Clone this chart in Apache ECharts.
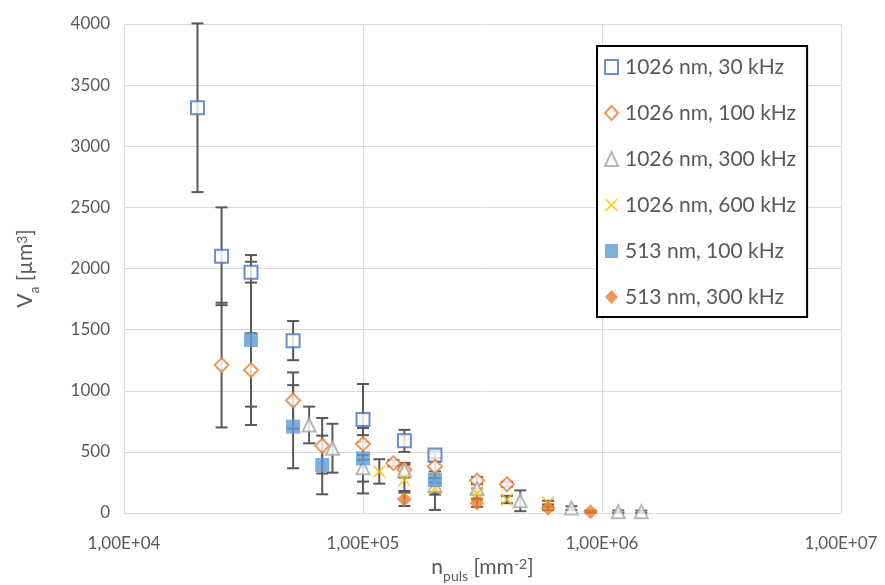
<!DOCTYPE html>
<html>
<head>
<meta charset="utf-8">
<script src="https://cdn.jsdelivr.net/npm/echarts@6/dist/echarts.min.js"></script>
<style>
  html, body { margin: 0; padding: 0; background: #fff; overflow: hidden; }
  #chart { width: 885px; height: 585px; }
</style>
</head>
<body>
<div id="chart"></div>
<script>
// 1026 nm, 30 kHz
const blue30X = [2.03e4, 2.56e4, 3.4e4, 5.1e4, 1e5, 1.49e5, 2e5];
const blue30Y = [3315, 2100, 1970, 1410, 765, 590, 475];
const blue30Err = [690, 400, 85, 160, 290, 90, 25];

// 1026 nm, 100 kHz
const orange100X = [2.56e4, 3.4e4, 5.1e4, 6.75e4, 1e5, 1.34e5, 1.49e5, 2e5, 3e5, 4e5];
const orange100Y = [1210, 1170, 920, 550, 565, 408, 355, 380, 265, 235];
const orange100Err = [510, 300, 230, 227, 130, 25, 40, 40, 30, 20];

// 1026 nm, 300 kHz
const gray300X = [5.95e4, 7.45e4, 1e5, 1.49e5, 2e5, 3e5, 4.55e5, 7.45e5, 1.17e6, 1.46e6];
const gray300Y = [720, 530, 370, 350, 225, 200, 100, 40, 10, 10];
const gray300Err = [150, 200, 210, 60, 60, 40, 85, 15, 10, 10];

// 1026 nm, 600 kHz
const yellow600X = [1.17e5, 1.49e5, 2e5, 3e5, 4e5, 5.95e5];
const yellow600Y = [340, 270, 200, 160, 110, 85];
const yellow600Err = [100, 90, 50, 40, 30, 15];

// 513 nm, 100 kHz
const blue513X = [3.4e4, 5.1e4, 6.75e4, 1e5, 2e5];
const blue513Y = [1415, 706, 393, 447, 270];
const blue513Err = [695, 340, 240, 190, 245];

// 513 nm, 300 kHz
const orange513X = [1.49e5, 3e5, 5.95e5, 8.95e5];
const orange513Y = [112, 80, 38, 11];
const orange513Err = [55, 30, 15, 8];

const yTicks = [0, 500, 1000, 1500, 2000, 2500, 3000, 3500, 4000];

const FONT = 'Lato';
const TXT = '#595959';
const crossPath = 'path://M0,1 L1,0 L5,4 L9,0 L10,1 L6,5 L10,9 L9,10 L5,6 L1,10 L0,9 L4,5 Z';

const seriesDefs = [
  { name: '1026 nm, 30 kHz', x: blue30X, y: blue30Y, e: blue30Err, symbol: 'rect', size: 13,
    itemStyle: { color: '#fff', borderColor: '#4472C4', borderWidth: 2 } },
  { name: '1026 nm, 100 kHz', x: orange100X, y: orange100Y, e: orange100Err, symbol: 'diamond', size: 14,
    itemStyle: { color: '#fff', borderColor: '#ED7D31', borderWidth: 2 } },
  { name: '1026 nm, 300 kHz', x: gray300X, y: gray300Y, e: gray300Err, symbol: 'triangle', size: 13,
    itemStyle: { color: '#fff', borderColor: '#A5A5A5', borderWidth: 2 } },
  { name: '1026 nm, 600 kHz', x: yellow600X, y: yellow600Y, e: yellow600Err, symbol: crossPath, size: 13,
    itemStyle: { color: '#FFC000' } },
  { name: '513 nm, 100 kHz', x: blue513X, y: blue513Y, e: blue513Err, symbol: 'rect', size: 14,
    itemStyle: { color: '#5B9BD5' } },
  { name: '513 nm, 300 kHz', x: orange513X, y: orange513Y, e: orange513Err, symbol: 'diamond', size: 15,
    itemStyle: { color: '#ED7D31' } }
];

function errRender(params, api) {
  const x = api.value(0), y = api.value(1), e = api.value(2);
  const top = api.coord([x, y + e]);
  const bot = api.coord([x, Math.max(y - e, 0)]);
  const hw = 6;
  const st = { stroke: '#595959', lineWidth: 2 };
  return {
    type: 'group',
    children: [
      { type: 'line', shape: { x1: top[0], y1: top[1], x2: bot[0], y2: bot[1] }, style: st },
      { type: 'line', shape: { x1: top[0] - hw, y1: top[1], x2: top[0] + hw, y2: top[1] }, style: st },
      { type: 'line', shape: { x1: bot[0] - hw, y1: bot[1], x2: bot[0] + hw, y2: bot[1] }, style: st }
    ]
  };
}

const series = [];
seriesDefs.forEach((d, i) => {
  series.push({
    name: d.name + ' err',
    type: 'custom',
    renderItem: errRender,
    encode: { x: 0, y: 1 },
    data: d.x.map((v, k) => [v, d.y[k], d.e[k]]),
    z: 2,
    silent: true
  });
  series.push({
    name: d.name,
    type: 'scatter',
    symbol: d.symbol,
    symbolSize: d.size,
    itemStyle: d.itemStyle,
    data: d.x.map((v, k) => [v, d.y[k]]),
    z: 3 + i
  });
});

function expLabel(v) {
  const p = Math.round(Math.log10(v));
  return '1,00E+' + (p < 10 ? '0' : '') + p;
}

const nameRich = {
  n: { fontSize: 21, color: TXT, fontFamily: FONT, verticalAlign: 'bottom' },
  s: { fontSize: 14, color: TXT, fontFamily: FONT, verticalAlign: 'bottom', padding: [0, 0, -5, 0] },
  p: { fontSize: 14, color: TXT, fontFamily: FONT, verticalAlign: 'top' }
};

const chart = echarts.init(document.getElementById('chart'));
chart.setOption({
  animation: false,
  backgroundColor: '#fff',
  textStyle: { fontFamily: FONT },
  grid: { left: 124, right: 44, top: 24, bottom: 72, containLabel: false, outerBoundsMode: 'none' },
  legend: {
    data: seriesDefs.map(d => d.name),
    orient: 'vertical',
    left: 597,
    top: 46,
    padding: [9, 11, 8, 7],
    itemGap: 22,
    itemWidth: 13,
    itemHeight: 14,
    borderColor: '#000',
    borderWidth: 2,
    backgroundColor: '#fff',
    textStyle: { color: TXT, fontSize: 21, fontFamily: FONT, lineHeight: 24, padding: [0, 0, 0, 2] }
  },
  xAxis: {
    type: 'log',
    logBase: 10,
    min: 1e4,
    max: 1e7,
    name: '{n|n}{s|puls}{n| [mm}{p|-2}{n|]}',
    nameLocation: 'middle',
    nameGap: 44,
    nameTextStyle: { rich: nameRich },
    axisLine: { show: true, lineStyle: { color: '#D9D9D9', width: 1 } },
    axisTick: { show: false },
    axisLabel: { color: TXT, fontSize: 17, margin: 22, formatter: expLabel },
    splitLine: { show: true, lineStyle: { color: '#D9D9D9', width: 1 } },
    minorTick: { show: false }
  },
  yAxis: {
    type: 'value',
    min: 0,
    max: 4000,
    interval: 500,
    name: '{n|V}{s|a}{n| [µm}{p|3}{n|]}',
    nameLocation: 'middle',
    nameRotate: 90,
    nameGap: 88,
    nameTextStyle: { rich: nameRich },
    axisLine: { show: false },
    axisTick: { show: false },
    axisLabel: { color: TXT, fontSize: 17, margin: 14,
      formatter: v => (yTicks.indexOf(v) >= 0 ? String(v) : '') },
    splitLine: { show: true, lineStyle: { color: '#D9D9D9', width: 1 } }
  },
  series: series
});
</script>
</body>
</html>
